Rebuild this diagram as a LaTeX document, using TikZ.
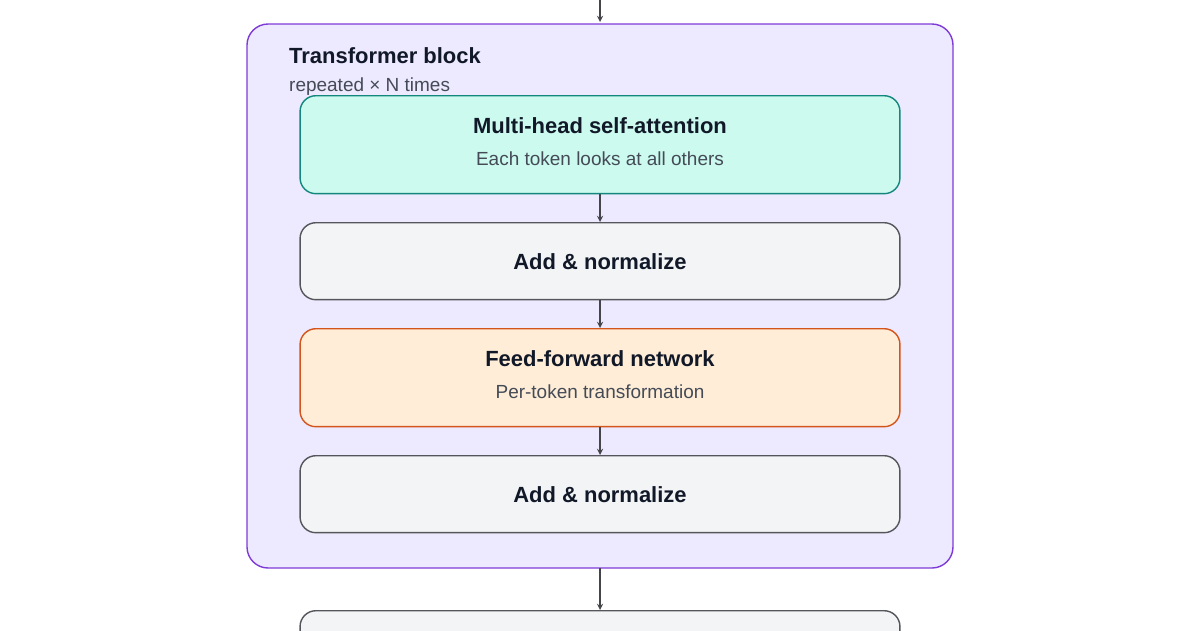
\documentclass[tikz,border=0pt]{standalone}
\usepackage{fontspec}
\setmainfont{Liberation Sans}
\usetikzlibrary{positioning}
\definecolor{blockfill}{HTML}{EDE9FE}
\definecolor{blockline}{HTML}{7E3BD8}
\definecolor{attnfill}{HTML}{CCFAEF}
\definecolor{attnline}{HTML}{13877D}
\definecolor{normfill}{HTML}{F3F4F6}
\definecolor{normline}{HTML}{55565C}
\definecolor{ffnfill}{HTML}{FFEDD7}
\definecolor{ffnline}{HTML}{D4551B}
\definecolor{subtext}{HTML}{444B57}
\definecolor{titletext}{HTML}{111827}
\begin{document}
\begin{tikzpicture}[x=0.02cm,y=-0.02cm]
\tikzset{layer/.style={rounded corners=9pt,line width=0.8pt,minimum width=12cm,inner sep=0pt,anchor=north},
  arr/.style={->,>=stealth,line width=0.6pt,normline!80!black},
  ttl/.style={font=\fontsize{12.5}{14}\selectfont\bfseries,text=titletext},
  sub/.style={font=\fontsize{10.8}{13}\selectfont,text=subtext}}
\useasboundingbox (0,0) rectangle (1200,630);
\clip (0,0) rectangle (1200,630);

  \draw[blockline,fill=blockfill,rounded corners=12pt,line width=0.8pt] (247,24) rectangle (953,568);
  \node[ttl,anchor=base west] (bt) at (283,63) {Transformer block};
  \node[sub,anchor=base west] (bs) at (283,91) {repeated × N times};

  \node[layer,draw=attnline,fill=attnfill,minimum height=1.96cm] (attn) at (600,95) {};
  \node[layer,draw=normline,fill=normfill,minimum height=1.54cm] (norma) at (600,222) {};
  \node[layer,draw=ffnline,fill=ffnfill,minimum height=1.96cm] (ffn) at (600,328) {};
  \node[layer,draw=normline,fill=normfill,minimum height=1.54cm] (normb) at (600,455) {};
  \node[layer,draw=normline,fill=normfill,minimum height=1.54cm] (out) at (600,610) {};

  \node[ttl,anchor=base] at (600,133) {Multi-head self-attention};
  \node[sub,anchor=base] at (600,165) {Each token looks at all others};
  \node[ttl,anchor=base] at (600,269) {Add \& normalize};
  \node[ttl,anchor=base] at (600,366) {Feed-forward network};
  \node[sub,anchor=base] at (600,398) {Per-token transformation};
  \node[ttl,anchor=base] at (600,502) {Add \& normalize};

  \coordinate (in) at (600,0);
  \coordinate (blocktop) at (600,22);
  \coordinate (blockbot) at (600,568);
  \draw[arr] (in) -- (blocktop);
  \draw[arr] (attn) -- (norma);
  \draw[arr] (norma) -- (ffn);
  \draw[arr] (ffn) -- (normb);
  \draw[arr] (blockbot) -- (out.north);
\end{tikzpicture}
\end{document}
